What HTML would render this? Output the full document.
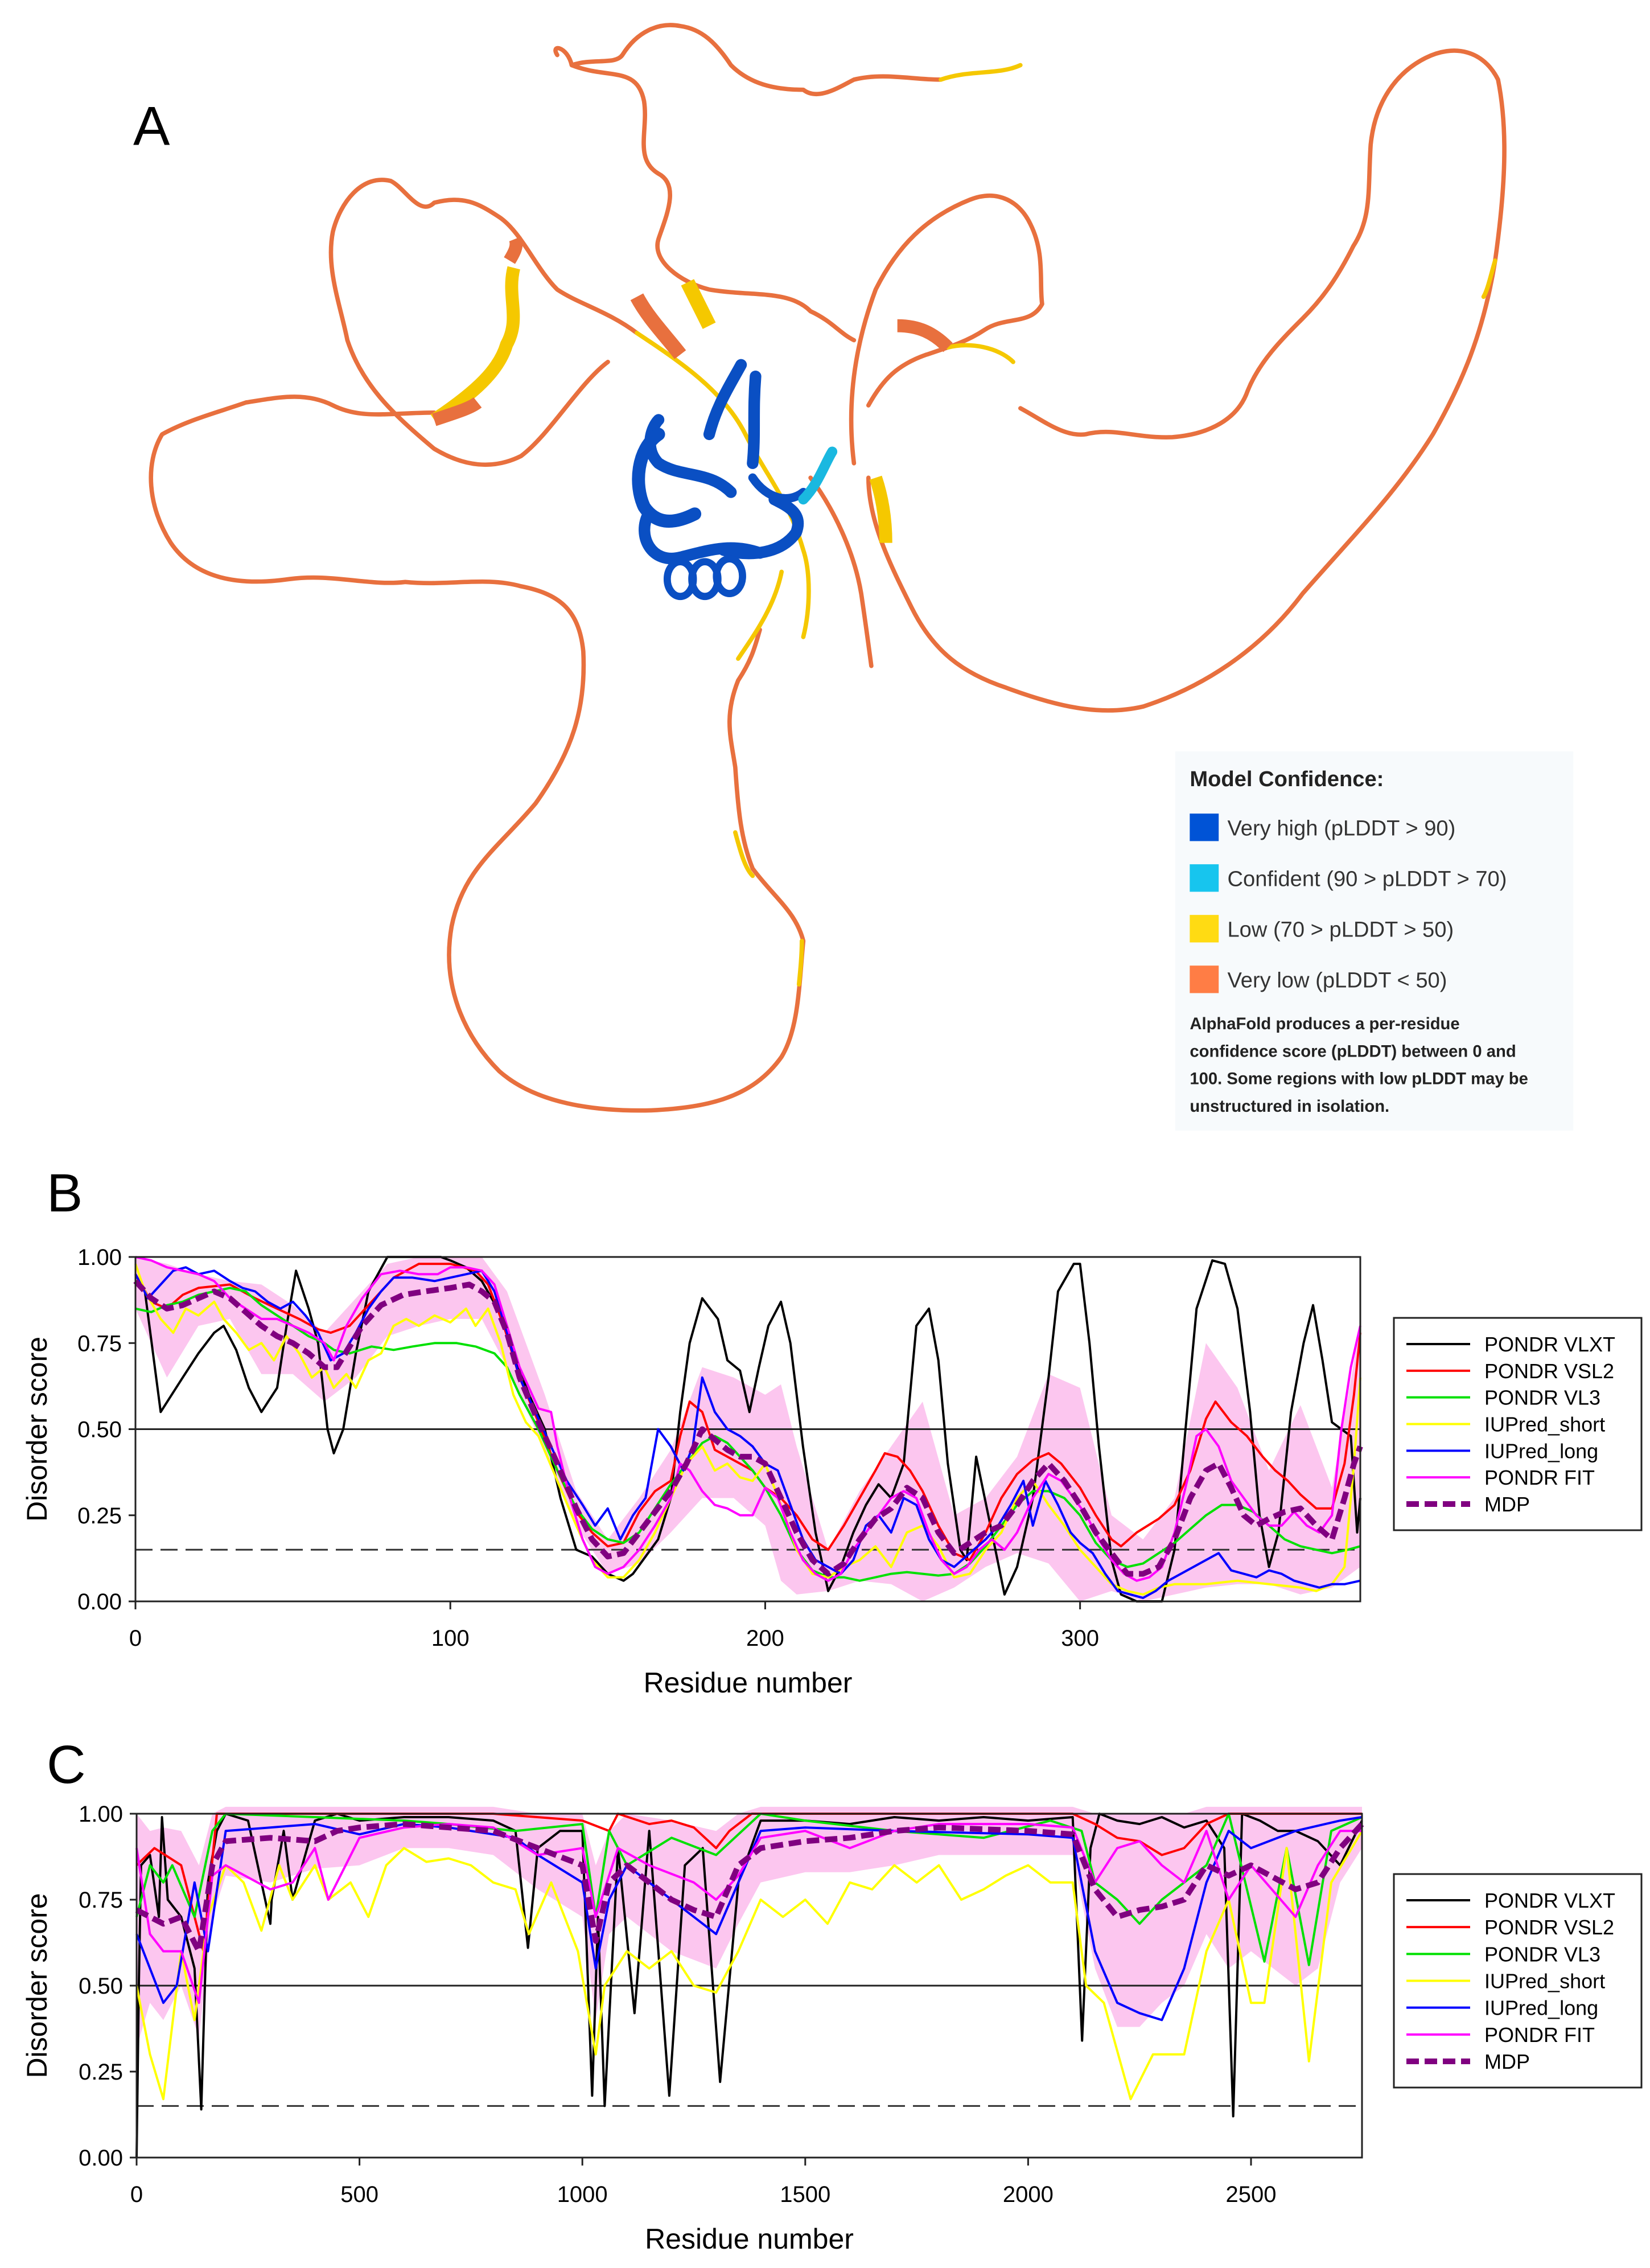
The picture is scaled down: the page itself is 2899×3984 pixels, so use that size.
<!DOCTYPE html>
<html><head><meta charset="utf-8"><style>
html,body{margin:0;padding:0;background:#fff;}
svg{display:block;font-family:"Liberation Sans",Arial,sans-serif;}
</style></head><body>
<svg id="fig" width="2899" height="3984" viewBox="0 0 2899 3984" xmlns="http://www.w3.org/2000/svg">
<rect width="2899" height="3984" fill="#fff"/>
<!-- Panel A -->
<g transform="scale(2.543)" fill="none" stroke-linecap="round" stroke-linejoin="round">
  <g stroke="#e8703e" stroke-width="3">
    <path d="M385,38 C380,30 392,32 395,45 C410,40 425,45 430,38 C440,22 455,15 470,18 C485,20 495,30 505,45 C520,60 540,62 555,62 C565,70 580,60 590,55 C610,50 630,55 650,55"/>
    <path d="M395,45 C420,55 440,45 445,70 C448,90 438,110 455,120 C470,128 460,150 455,165 C450,180 470,195 490,200 C520,205 545,200 560,215 C575,222 580,230 590,235"/>
    <path d="M440,230 C420,215 400,210 385,200 C370,185 360,160 345,150 C330,140 320,135 300,140 C290,150 280,130 270,125 C250,120 235,140 230,160 C225,185 235,210 240,235 C250,265 270,285 300,310 C320,322 340,325 360,315 C380,300 400,265 420,250"/>
    <path d="M300,285 C270,285 250,290 230,280 C210,270 190,275 170,278 C150,285 130,290 112,300 C100,320 102,350 118,375 C135,400 165,405 200,400 C230,396 255,405 280,402 C310,405 335,398 360,405 C385,410 400,420 403,450 C405,490 395,520 370,555 C345,585 320,600 312,640 C305,680 320,715 345,740 C370,762 410,768 450,767 C490,765 520,758 540,730 C552,710 552,680 555,650 C550,630 535,620 520,600 C512,580 510,560 508,530 C505,510 500,495 510,470 C520,455 522,445 525,435"/>
    <path d="M600,330 C600,360 615,390 630,420 C645,450 665,465 695,475 C730,488 760,495 790,488 C830,475 870,450 900,410 C935,370 965,340 990,300 C1010,265 1025,230 1033,180 C1040,130 1042,90 1035,55 C1025,35 1005,30 985,40 C965,50 950,70 947,100 C945,130 948,150 935,170 C925,190 915,205 900,220 C885,235 870,250 862,270 C855,290 835,300 810,302 C785,303 770,295 750,300 C735,302 720,290 705,282"/>
    <path d="M590,320 C585,280 590,240 605,200 C620,170 640,150 670,138 C690,130 705,140 712,155 C722,175 718,195 720,210 C712,225 695,218 680,228 C668,236 655,240 640,245 C620,252 610,262 600,280"/>
    <path d="M560,330 C575,350 590,380 595,410 C598,430 600,445 602,460"/>
  </g>
  <g stroke="#f5c800" stroke-width="3">
    <path d="M650,55 C670,48 690,52 705,45"/>
    <path d="M440,230 C470,250 500,270 515,300 C530,330 545,345 555,380 C560,395 560,420 555,440"/>
    <path d="M540,395 C535,420 520,440 510,455"/>
    <path d="M700,250 C690,240 670,236 655,240"/>
    <path d="M1033,180 C1030,190 1028,200 1025,205"/>
    <path d="M508,575 C512,590 515,600 520,605"/>
    <path d="M552,680 C553,670 554,660 554,650"/>
  </g>
  <g stroke-width="9" stroke-linecap="butt">
    <path d="M355,185 C350,205 360,220 350,238 C345,255 330,270 300,290" stroke="#f5c800"/>
    <path d="M352,180 C355,175 358,170 356,165" stroke="#e8703e"/>
    <path d="M300,290 C315,285 325,282 330,278" stroke="#e8703e"/>
    <path d="M440,205 C448,220 460,232 470,245" stroke="#e8703e" stroke-width="10"/>
    <path d="M475,195 C480,205 485,215 490,225" stroke="#f5c800" stroke-width="10"/>
    <path d="M620,225 C635,225 645,230 655,240" stroke="#e8703e"/>
    <path d="M605,330 C610,345 612,360 612,375" stroke="#f5c800"/>
  </g>
  <g stroke="#0a4fc3" fill="none">
    <path d="M490,300 C495,280 505,265 512,252" stroke-width="8"/>
    <path d="M520,320 C522,300 520,285 522,260" stroke-width="8"/>
    <path d="M505,340 C490,325 470,330 455,320 C445,310 450,295 455,290" stroke-width="8"/>
    <path d="M455,300 C440,310 438,335 445,350 C455,365 470,360 480,355" stroke-width="9"/>
    <path d="M448,355 C440,370 450,390 470,385 C490,380 505,375 525,382" stroke-width="8"/>
    <path d="M500,380 C520,385 540,382 550,368 C555,355 545,350 535,345" stroke-width="8"/>
    <ellipse cx="470" cy="400" rx="9" ry="12" stroke-width="5"/>
    <ellipse cx="487" cy="400" rx="9" ry="12" stroke-width="5"/>
    <ellipse cx="504" cy="398" rx="9" ry="12" stroke-width="5"/>
    <path d="M520,330 C530,345 545,348 555,340" stroke-width="6"/>
  </g>
  <path d="M555,345 C565,335 570,320 575,312" stroke="#1ab8e0" stroke-width="7" fill="none"/>
  <text x="92" y="100" font-size="38" fill="#000">A</text>
  <g>
    <rect x="812" y="519" width="275" height="262" fill="#f7fafc" stroke="none"/>
    <text x="822" y="543" font-size="15" font-weight="bold" fill="#222">Model Confidence:</text>
    <rect x="822" y="562" width="20" height="19" fill="#0053d6"/>
    <text x="848" y="577" font-size="15" fill="#333">Very high (pLDDT &gt; 90)</text>
    <rect x="822" y="597" width="20" height="19" fill="#17c5ee"/>
    <text x="848" y="612" font-size="15" fill="#333">Confident (90 &gt; pLDDT &gt; 70)</text>
    <rect x="822" y="632" width="20" height="19" fill="#ffdb13"/>
    <text x="848" y="647" font-size="15" fill="#333">Low (70 &gt; pLDDT &gt; 50)</text>
    <rect x="822" y="667" width="20" height="19" fill="#ff7d45"/>
    <text x="848" y="682" font-size="15" fill="#333">Very low (pLDDT &lt; 50)</text>
    <text x="822" y="711" font-size="11.5" font-weight="bold" fill="#222">AlphaFold produces a per-residue</text>
    <text x="822" y="730" font-size="11.5" font-weight="bold" fill="#222">confidence score (pLDDT) between 0 and</text>
    <text x="822" y="749" font-size="11.5" font-weight="bold" fill="#222">100. Some regions with low pLDDT may be</text>
    <text x="822" y="768" font-size="11.5" font-weight="bold" fill="#222">unstructured in isolation.</text>
  </g>
</g>
<text x="82" y="2128" font-size="95" fill="#000">B</text>
<text x="82" y="3132" font-size="95" fill="#000">C</text>
<g id="chartB"></g>
<g id="chartC"></g>
</svg>
<script>
// ---------- Panel B data ----------
const bVlxtX=[0,3,8,15,20,25,28,32,36,40,45,48,51,55,58,61,63,66,70,74,80,90,97,100,105,110,115,120,125,130,135,140,145,150,155,158,162,166,170,173,176,180,185,188,192,195,198,201,205,208,212,216,220,224,228,232,236,240,244,248,252,255,258,262,264,267,272,276,280,285,290,293,298,300,303,306,310,313,318,322,326,330,334,337,342,346,350,354,357,360,363,367,371,374,377,380,383,386,388,389];
const bVlxtY=[0.95,0.9,0.55,0.65,0.72,0.78,0.8,0.73,0.62,0.55,0.62,0.8,0.96,0.85,0.75,0.5,0.43,0.5,0.72,0.9,1,1,1,0.99,0.97,0.93,0.85,0.72,0.6,0.5,0.3,0.15,0.13,0.08,0.06,0.08,0.13,0.18,0.3,0.55,0.75,0.88,0.82,0.7,0.67,0.55,0.68,0.8,0.87,0.75,0.45,0.2,0.03,0.1,0.2,0.28,0.34,0.3,0.4,0.8,0.85,0.7,0.4,0.15,0.12,0.42,0.2,0.02,0.1,0.3,0.65,0.9,0.98,0.98,0.75,0.45,0.12,0.02,0,0,0,0.15,0.55,0.85,0.99,0.98,0.85,0.55,0.25,0.1,0.2,0.55,0.75,0.86,0.7,0.52,0.5,0.48,0.2,0.3];
const bVsl2X=[0,5,10,15,20,30,38,45,52,58,62,68,75,82,90,100,108,112,117,122,128,134,140,145,150,155,160,165,170,173,176,180,184,188,192,196,200,205,210,215,220,225,230,235,238,242,246,250,255,260,265,270,275,280,285,290,294,300,305,310,313,318,325,330,335,340,343,348,353,358,362,366,370,375,380,384,387,389];
const bVsl2Y=[0.95,0.87,0.85,0.89,0.91,0.92,0.88,0.85,0.82,0.79,0.78,0.8,0.87,0.94,0.98,0.98,0.96,0.92,0.8,0.65,0.52,0.38,0.26,0.2,0.16,0.17,0.26,0.32,0.35,0.48,0.58,0.55,0.44,0.42,0.4,0.38,0.33,0.3,0.25,0.18,0.15,0.22,0.3,0.38,0.43,0.42,0.38,0.32,0.22,0.14,0.12,0.2,0.3,0.37,0.41,0.43,0.4,0.33,0.25,0.18,0.16,0.2,0.24,0.28,0.38,0.53,0.58,0.52,0.48,0.42,0.38,0.35,0.31,0.27,0.27,0.4,0.6,0.78];
const bVl3X=[0,5,10,15,20,25,30,35,40,45,50,55,60,63,68,75,82,88,95,102,108,114,118,122,128,134,140,145,150,155,160,165,170,175,180,184,188,192,196,200,205,210,215,220,225,230,235,240,245,250,255,260,265,270,275,280,285,290,295,300,305,310,315,320,325,330,335,340,345,350,355,360,365,370,375,380,385,389];
const bVl3Y=[0.85,0.84,0.86,0.87,0.89,0.9,0.91,0.9,0.86,0.83,0.8,0.77,0.75,0.73,0.72,0.74,0.73,0.74,0.75,0.75,0.74,0.72,0.68,0.6,0.5,0.38,0.27,0.21,0.18,0.17,0.2,0.27,0.34,0.4,0.46,0.48,0.46,0.42,0.38,0.33,0.25,0.15,0.09,0.07,0.07,0.06,0.07,0.08,0.085,0.08,0.075,0.08,0.11,0.16,0.22,0.28,0.32,0.32,0.3,0.25,0.17,0.12,0.1,0.11,0.14,0.17,0.21,0.25,0.28,0.28,0.26,0.22,0.18,0.16,0.15,0.14,0.15,0.16];
const bShortX=[0,3,8,12,16,20,25,28,32,36,40,44,48,52,56,60,63,67,70,74,78,82,86,90,95,100,105,108,112,116,120,124,128,134,140,145,150,155,160,165,170,175,180,184,188,192,196,200,205,210,215,220,225,230,235,240,245,250,255,260,265,270,275,280,285,290,295,300,305,310,315,320,325,330,340,350,360,370,375,380,384,387,389];
const bShortY=[0.98,0.9,0.82,0.78,0.85,0.83,0.87,0.82,0.78,0.73,0.75,0.7,0.77,0.72,0.65,0.68,0.62,0.66,0.62,0.7,0.72,0.8,0.82,0.8,0.83,0.81,0.85,0.8,0.85,0.75,0.6,0.52,0.48,0.35,0.22,0.12,0.07,0.07,0.12,0.2,0.3,0.4,0.45,0.38,0.4,0.36,0.35,0.4,0.28,0.15,0.08,0.07,0.1,0.12,0.16,0.1,0.2,0.22,0.16,0.07,0.08,0.15,0.2,0.3,0.35,0.28,0.22,0.15,0.1,0.05,0.03,0.02,0.04,0.05,0.05,0.06,0.05,0.04,0.03,0.05,0.1,0.4,0.65];
const bLongX=[0,4,8,12,16,20,25,30,34,38,42,46,50,54,58,62,66,70,74,78,82,88,95,100,105,110,114,118,122,127,132,137,142,146,150,154,158,162,166,170,174,177,180,184,188,192,196,200,204,208,212,216,220,224,228,232,236,240,244,248,252,256,260,265,270,274,278,282,285,289,293,297,300,304,308,312,316,320,324,328,332,336,340,344,348,352,356,360,364,368,372,376,380,384,389];
const bLongY=[0.95,0.88,0.92,0.96,0.97,0.95,0.96,0.93,0.91,0.9,0.87,0.85,0.87,0.83,0.78,0.7,0.72,0.78,0.85,0.9,0.94,0.94,0.93,0.94,0.95,0.96,0.9,0.78,0.65,0.55,0.45,0.35,0.28,0.22,0.27,0.18,0.25,0.3,0.5,0.45,0.38,0.45,0.65,0.55,0.5,0.48,0.45,0.4,0.38,0.28,0.18,0.12,0.1,0.08,0.12,0.22,0.25,0.2,0.3,0.28,0.18,0.12,0.1,0.14,0.18,0.22,0.28,0.35,0.22,0.35,0.28,0.2,0.17,0.14,0.08,0.03,0.02,0.01,0.03,0.06,0.08,0.1,0.12,0.14,0.09,0.08,0.07,0.09,0.08,0.06,0.05,0.04,0.05,0.05,0.06];
const bFitX=[0,5,10,15,20,25,30,35,40,45,50,55,60,63,67,72,78,84,90,96,100,105,110,114,118,122,128,132,134,138,142,146,150,155,160,165,170,173,176,180,184,188,192,196,200,204,208,212,216,220,224,228,232,236,240,244,248,252,256,260,264,268,272,276,280,285,290,294,298,302,306,310,314,318,322,326,330,334,337,340,344,348,352,356,360,364,368,372,376,380,383,386,389];
const bFitY=[1,0.99,0.97,0.96,0.95,0.93,0.88,0.85,0.82,0.82,0.8,0.78,0.75,0.7,0.8,0.88,0.95,0.96,0.95,0.95,0.97,0.97,0.96,0.92,0.8,0.68,0.56,0.55,0.45,0.3,0.18,0.1,0.08,0.1,0.15,0.22,0.3,0.4,0.38,0.32,0.28,0.27,0.25,0.25,0.33,0.3,0.2,0.12,0.08,0.06,0.08,0.15,0.2,0.25,0.3,0.32,0.3,0.2,0.12,0.08,0.1,0.15,0.18,0.15,0.2,0.3,0.37,0.35,0.3,0.25,0.18,0.12,0.08,0.06,0.07,0.1,0.2,0.35,0.48,0.5,0.45,0.35,0.3,0.25,0.22,0.22,0.26,0.22,0.2,0.25,0.5,0.68,0.8];
const bMdpX=[0,5,10,15,20,25,30,35,40,45,50,55,60,64,68,72,78,85,92,100,106,110,114,118,122,128,134,140,145,150,155,160,165,170,175,180,184,188,192,196,200,205,210,215,220,225,230,235,240,245,250,255,260,265,270,275,280,285,290,295,300,305,310,315,320,325,330,335,340,344,348,352,356,360,365,370,375,380,384,387,389];
const bMdpY=[0.93,0.88,0.85,0.86,0.88,0.9,0.88,0.84,0.8,0.77,0.75,0.72,0.68,0.68,0.74,0.8,0.86,0.89,0.9,0.91,0.92,0.9,0.87,0.78,0.65,0.52,0.4,0.27,0.18,0.13,0.14,0.2,0.26,0.32,0.4,0.5,0.47,0.44,0.42,0.42,0.4,0.3,0.2,0.12,0.08,0.11,0.18,0.24,0.27,0.33,0.3,0.2,0.14,0.17,0.2,0.22,0.28,0.35,0.4,0.35,0.28,0.2,0.14,0.08,0.08,0.1,0.18,0.3,0.38,0.4,0.33,0.25,0.22,0.24,0.26,0.27,0.22,0.18,0.3,0.4,0.45];
const bBandX=[0,10,20,30,40,50,60,70,80,90,100,110,118,130,140,150,160,170,180,190,200,205,210,220,230,240,250,260,270,280,290,300,310,320,330,340,350,360,370,380,389];
const bBandLo=[0.85,0.65,0.8,0.82,0.66,0.66,0.58,0.65,0.77,0.8,0.82,0.82,0.68,0.44,0.22,0.08,0.11,0.2,0.3,0.3,0.22,0.06,0.02,0.03,0.06,0.05,0.0,0.04,0.1,0.14,0.11,0.0,0.03,0.0,0.02,0.04,0.05,0.05,0.02,0.04,0.1];
const bBandHi=[1.0,0.98,0.95,0.93,0.92,0.86,0.78,0.88,0.98,1.0,1.0,1.0,0.9,0.6,0.32,0.18,0.3,0.44,0.68,0.65,0.6,0.63,0.45,0.15,0.32,0.45,0.58,0.25,0.3,0.42,0.66,0.62,0.25,0.18,0.3,0.75,0.62,0.38,0.57,0.33,0.8];
const bXTicks=[0,100,200,300];
const bYTicks=[0,0.25,0.5,0.75,1.0];
const bYTickLabels=["0.00","0.25","0.50","0.75","1.00"];

// ---------- Panel C data ----------
const cVlxtX=[0,5,10,30,50,57,70,100,130,145,160,180,200,250,300,303,330,350,400,450,500,600,700,800,850,878,900,950,1000,1022,1035,1050,1080,1117,1150,1195,1230,1270,1309,1350,1400,1500,1600,1700,1800,1900,2000,2100,2121,2140,2160,2200,2250,2300,2350,2400,2440,2460,2480,2520,2560,2600,2650,2700,2749];
const cVlxtY=[0.0,0.5,0.85,0.88,0.7,0.99,0.75,0.7,0.55,0.14,0.8,0.95,1.0,0.98,0.68,0.75,0.95,0.75,0.98,1.0,0.98,0.99,0.99,0.98,0.95,0.61,0.9,0.95,0.95,0.18,0.7,0.15,0.9,0.42,0.95,0.18,0.85,0.9,0.22,0.8,0.98,0.98,0.97,0.99,0.98,0.99,0.98,0.99,0.34,0.9,1.0,0.98,0.97,0.99,0.96,0.98,0.9,0.12,1.0,0.98,0.95,0.95,0.92,0.85,0.98];
const cVsl2X=[0,40,100,150,180,400,800,1000,1060,1080,1150,1200,1250,1300,1330,1380,1600,1800,2100,2150,2200,2250,2300,2350,2400,2450,2749];
const cVsl2Y=[0.85,0.9,0.85,0.6,1.0,1.0,1.0,0.98,0.95,1.0,0.97,0.98,0.96,0.9,0.95,1.0,1.0,1.0,1.0,0.97,0.93,0.92,0.88,0.9,0.97,1.0,1.0];
const cVl3X=[0,30,60,80,130,170,200,400,600,700,850,1000,1030,1060,1100,1200,1300,1400,1500,1700,1900,2050,2120,2150,2200,2250,2300,2350,2400,2450,2530,2580,2630,2680,2749];
const cVl3Y=[0.7,0.85,0.8,0.85,0.7,0.95,1.0,0.99,0.98,0.97,0.95,0.97,0.7,0.95,0.85,0.93,0.88,1.0,0.98,0.95,0.93,0.98,0.95,0.8,0.75,0.68,0.75,0.8,0.85,1.0,0.57,0.9,0.56,0.95,0.99];
const cShortX=[0,30,60,100,130,160,200,240,280,320,350,400,430,480,520,560,600,650,700,750,800,850,880,930,990,1030,1050,1100,1150,1200,1250,1300,1350,1400,1450,1500,1550,1600,1650,1700,1750,1800,1850,1900,1950,2000,2050,2100,2130,2170,2230,2280,2350,2400,2450,2500,2530,2580,2630,2680,2749];
const cShortY=[0.5,0.3,0.17,0.6,0.4,0.7,0.85,0.8,0.66,0.85,0.75,0.85,0.75,0.8,0.7,0.85,0.9,0.86,0.87,0.85,0.8,0.78,0.65,0.8,0.6,0.3,0.5,0.6,0.55,0.6,0.5,0.48,0.6,0.75,0.7,0.75,0.68,0.8,0.78,0.85,0.8,0.85,0.75,0.78,0.82,0.85,0.8,0.8,0.5,0.45,0.17,0.3,0.3,0.6,0.75,0.45,0.45,0.9,0.28,0.8,0.95];
const cLongX=[0,30,60,90,130,160,200,300,400,500,600,700,850,900,1000,1030,1060,1100,1150,1200,1250,1300,1350,1400,1500,1700,2000,2100,2150,2200,2250,2300,2350,2400,2450,2500,2600,2700,2749];
const cLongY=[0.65,0.55,0.45,0.5,0.8,0.6,0.95,0.96,0.97,0.94,0.97,0.96,0.93,0.88,0.8,0.55,0.75,0.85,0.8,0.75,0.7,0.65,0.8,0.95,0.96,0.95,0.94,0.93,0.6,0.45,0.42,0.4,0.55,0.8,0.95,0.9,0.95,0.98,0.99];
const cFitX=[0,30,60,100,140,170,200,300,350,400,430,500,600,700,800,900,1000,1030,1080,1150,1250,1300,1350,1400,1500,1600,1700,1800,2000,2100,2150,2200,2250,2300,2350,2400,2450,2500,2600,2650,2700,2749];
const cFitY=[0.9,0.65,0.6,0.6,0.45,0.82,0.85,0.78,0.8,0.9,0.75,0.93,0.96,0.97,0.96,0.88,0.9,0.7,0.9,0.85,0.8,0.75,0.82,0.93,0.95,0.9,0.95,0.97,0.97,0.96,0.8,0.9,0.92,0.85,0.8,0.95,0.75,0.85,0.7,0.85,0.95,0.95];
const cMdpX=[0,30,60,100,140,170,200,300,400,450,500,600,700,800,900,1000,1030,1060,1100,1150,1200,1250,1300,1350,1400,1500,1600,1700,1800,2000,2100,2150,2200,2250,2300,2350,2400,2450,2500,2600,2650,2700,2749];
const cMdpY=[0.72,0.7,0.68,0.7,0.6,0.85,0.92,0.93,0.92,0.95,0.96,0.97,0.96,0.95,0.9,0.85,0.63,0.8,0.85,0.8,0.75,0.72,0.7,0.85,0.9,0.92,0.93,0.95,0.96,0.95,0.94,0.78,0.7,0.72,0.73,0.75,0.85,0.82,0.85,0.78,0.8,0.9,0.97];
const cBandX=[0,30,60,100,140,170,200,300,400,500,600,700,800,900,1000,1030,1060,1100,1200,1300,1350,1400,1500,1600,1700,1800,2000,2100,2150,2200,2250,2300,2350,2400,2450,2500,2600,2650,2700,2749];
const cBandLo=[0.32,0.45,0.4,0.5,0.35,0.7,0.82,0.8,0.84,0.85,0.9,0.9,0.88,0.78,0.7,0.4,0.65,0.7,0.6,0.55,0.68,0.8,0.83,0.83,0.85,0.88,0.88,0.88,0.55,0.38,0.38,0.45,0.5,0.65,0.55,0.6,0.5,0.55,0.8,0.9];
const cBandHi=[1.0,0.95,0.96,0.95,0.85,1.0,1.02,1.02,1.02,1.02,1.02,1.02,1.02,1.0,1.0,0.85,0.95,1.0,0.98,0.95,1.0,1.02,1.02,1.02,1.02,1.02,1.02,1.02,1.0,1.0,1.0,1.0,1.0,1.02,1.02,1.02,1.02,1.02,1.02,1.02];
const cXTicks=[0,500,1000,1500,2000,2500];
const cYTicks=[0,0.25,0.5,0.75,1.0];
const cYTickLabels=["0.00","0.25","0.50","0.75","1.00"];

const seriesNames=["PONDR VLXT","PONDR VSL2","PONDR VL3","IUPred_short","IUPred_long","PONDR FIT","MDP"];
const seriesColors=["#000000","#ff0000","#00e000","#ffff00","#0000ff","#ff00ff","#800080"];

const NS="http://www.w3.org/2000/svg";
function mk(tag,attrs,parent){const e=document.createElementNS(NS,tag);for(const k in attrs)e.setAttribute(k,attrs[k]);parent.appendChild(e);return e;}

function drawChart(g,cfg){
  const xS=v=>cfg.x0+(v-0)*(cfg.x1-cfg.x0)/cfg.xMax;
  const yS=v=>cfg.y0-v*(cfg.y0-cfg.y1);
  // band
  let d="";
  cfg.bandX.forEach((x,i)=>{d+=(i?"L":"M")+xS(x).toFixed(1)+","+yS(cfg.bandHi[i]).toFixed(1);});
  for(let i=cfg.bandX.length-1;i>=0;i--)d+="L"+xS(cfg.bandX[i]).toFixed(1)+","+yS(cfg.bandLo[i]).toFixed(1);
  const band=mk("path",{d:d+"Z",fill:"#fcc6ef",stroke:"none"},g);
  
  
  // reference lines
  const l5=mk("line",{x1:cfg.x0,x2:cfg.x1,y1:yS(0.5),y2:yS(0.5),stroke:"#222","stroke-width":3},g);
  
  
  const l15=mk("line",{x1:cfg.x0,x2:cfg.x1,y1:yS(0.15),y2:yS(0.15),stroke:"#333","stroke-width":3,"stroke-dasharray":"30,14"},g);
  
  
  // series
  cfg.series.forEach((s,i)=>{
    let pd="";s.x.forEach((x,j)=>{pd+=(j?"L":"M")+xS(x).toFixed(1)+","+yS(s.y[j]).toFixed(1);});
    const isM=i===6;
    const p=mk("path",{d:pd,fill:"none",stroke:seriesColors[i],"stroke-width":isM?10:4,"stroke-linejoin":"round"},g);
    if(isM)p.setAttribute("stroke-dasharray","22,10");
    
    
  });
  // frame
  const fr=mk("rect",{x:cfg.x0,y:cfg.y1,width:cfg.x1-cfg.x0,height:cfg.y0-cfg.y1,fill:"none",stroke:"#222","stroke-width":3},g);
  
  
  // x ticks
  cfg.xTicks.forEach(t=>{
    const tl=mk("line",{x1:xS(t),x2:xS(t),y1:cfg.y0,y2:cfg.y0+14,stroke:"#222","stroke-width":3},g);
    
    
    const tx=mk("text",{x:xS(t),y:cfg.y0+78,"font-size":40,"text-anchor":"middle",fill:"#000"},g);
    tx.textContent=String(t);
    
    
  });
  cfg.yTicks.forEach((t,i)=>{
    const tl=mk("line",{x1:cfg.x0-12,x2:cfg.x0,y1:yS(t),y2:yS(t),stroke:"#222","stroke-width":3},g);
    
    
    const tx=mk("text",{x:cfg.x0-24,y:yS(t)+14,"font-size":40,"text-anchor":"end",fill:"#000"},g);
    tx.textContent=cfg.yTickLabels[i];
    
    
  });
  const xt=mk("text",{x:(cfg.x0+cfg.x1)/2,y:cfg.y0+160,"font-size":50,"text-anchor":"middle",fill:"#000"},g);
  xt.textContent="Residue number";
  
  
  const yc=(cfg.y0+cfg.y1)/2;
  const yt=mk("text",{x:82,y:yc,"font-size":50,"text-anchor":"middle",fill:"#000",transform:"rotate(-90 82 "+yc+")"},g);
  yt.textContent="Disorder score";
  
  
  // legend
  const lg=mk("g",{},g);
  
  
  mk("rect",{x:2449,y:cfg.legY0,width:435,height:cfg.legY1-cfg.legY0,fill:"#fff",stroke:"#222","stroke-width":3},lg);
  seriesNames.forEach((n,i)=>{
    const y=cfg.legY0+46+i*(cfg.legY1-cfg.legY0-92)/6;
    const ln=mk("line",{x1:2471,x2:2583,y1:y,y2:y,stroke:seriesColors[i],"stroke-width":i===6?10:4},lg);
    if(i===6)ln.setAttribute("stroke-dasharray","22,10");
    
    
    const tx=mk("text",{x:2608,y:y+13,"font-size":36,fill:"#000"},lg);
    tx.textContent=n;
    
    
  });
}

drawChart(document.getElementById("chartB"),{x0:238,x1:2390,xMax:389,y0:2813,y1:2208,
  bandX:bBandX,bandLo:bBandLo,bandHi:bBandHi,xTicks:bXTicks,yTicks:bYTicks,yTickLabels:bYTickLabels,legY0:2315,legY1:2688,
  series:[{x:bVlxtX,y:bVlxtY},{x:bVsl2X,y:bVsl2Y},{x:bVl3X,y:bVl3Y},{x:bShortX,y:bShortY},{x:bLongX,y:bLongY},{x:bFitX,y:bFitY},{x:bMdpX,y:bMdpY}]});
drawChart(document.getElementById("chartC"),{x0:240,x1:2393,xMax:2749,y0:3790,y1:3186,
  bandX:cBandX,bandLo:cBandLo,bandHi:cBandHi,xTicks:cXTicks,yTicks:cYTicks,yTickLabels:cYTickLabels,legY0:3292,legY1:3667,
  series:[{x:cVlxtX,y:cVlxtY},{x:cVsl2X,y:cVsl2Y},{x:cVl3X,y:cVl3Y},{x:cShortX,y:cShortY},{x:cLongX,y:cLongY},{x:cFitX,y:cFitY},{x:cMdpX,y:cMdpY}]});
</script>
</body></html>
